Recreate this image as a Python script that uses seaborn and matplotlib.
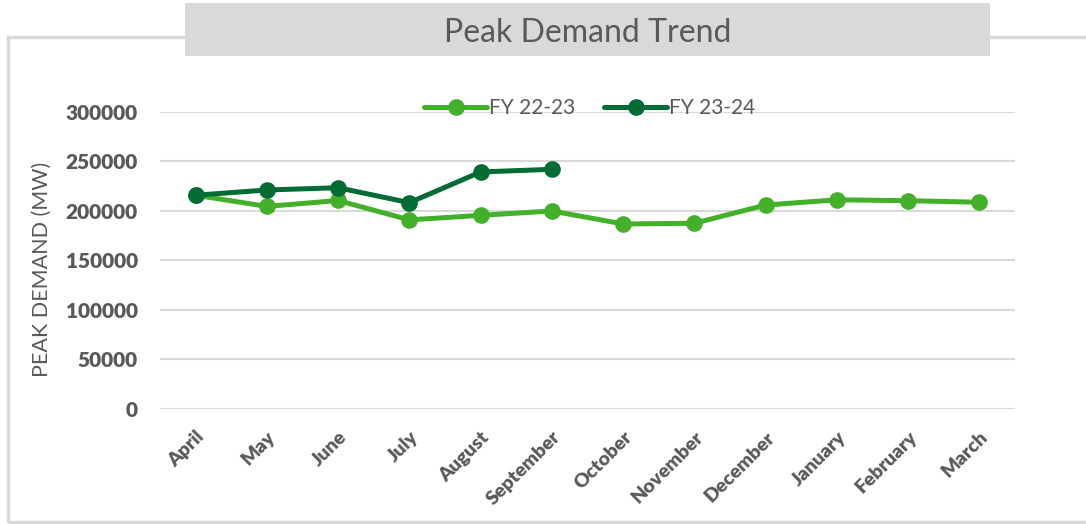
import pandas as pd
import matplotlib.pyplot as plt
import matplotlib.patches as patches
import seaborn as sns

# data
months = ['April', 'May', 'June', 'July', 'August', 'September',
          'October', 'November', 'December', 'January', 'February', 'March']
fy_2223 = [215900, 204600, 210600, 191000, 195600, 200000,
           186900, 187600, 206000, 211300, 210400, 208800]
fy_2324 = [215900, 221200, 223500, 208400, 239400, 242100]
series_names = ['FY 22-23', 'FY 23-24']
yticks = [0, 50000, 100000, 150000, 200000, 250000, 300000]

light_green = '#43B02A'
dark_green = '#036B34'
grey_text = '#595959'
grid_grey = '#D9D9D9'

df = pd.concat([
    pd.DataFrame({'Month': months, 'Demand': fy_2223, 'FY': series_names[0]}),
    pd.DataFrame({'Month': months[:len(fy_2324)], 'Demand': fy_2324, 'FY': series_names[1]}),
])

sns.set_style('white')
plt.rcParams['font.family'] = ['Lato', 'DejaVu Sans']

fig = plt.figure(figsize=(10.86, 5.24), dpi=100)
ax = fig.add_axes([0.1473, 0.2195, 0.7873, 0.5668])

sns.lineplot(data=df, x='Month', y='Demand', hue='FY', sort=False,
             palette={series_names[0]: light_green, series_names[1]: dark_green},
             marker='o', markersize=12, markeredgewidth=0, linewidth=3.6,
             ax=ax, clip_on=False)

ax.set_xlim(-0.5, len(months) - 0.5)
ax.set_ylim(0, 300000)
ax.set_yticks(yticks)
ax.set_yticklabels([str(v) for v in yticks], fontsize=15, fontweight='heavy', color=grey_text)
ax.set_xticks(range(len(months)))
ax.set_xticklabels(months, rotation=45, ha='right', rotation_mode='anchor',
                   fontsize=14, fontweight='heavy', color=grey_text)
ax.tick_params(axis='y', length=0, pad=16)
ax.tick_params(axis='x', length=0, pad=14)
ax.grid(axis='y', color=grid_grey, linewidth=1.5)
ax.set_axisbelow(True)
for s in ax.spines.values():
    s.set_visible(False)
ax.set_xlabel('')
ax.set_ylabel('PEAK DEMAND (MW)', fontsize=15.5, color=grey_text)
ax.yaxis.set_label_coords(-0.127, 0.47)

handles, labels = ax.get_legend_handles_labels()
ax.legend(handles, labels, loc='center', bbox_to_anchor=(0.543, 0.793),
          bbox_transform=fig.transFigure, ncol=2, frameon=False,
          fontsize=15, labelcolor=grey_text, handlelength=3.0,
          handletextpad=0.1, columnspacing=1.4)

# outer chart frame and title box
frame = patches.Rectangle((8 / 1086, 2 / 524), 1.1, (524 - 37 - 2) / 524,
                          transform=fig.transFigure, fill=False,
                          edgecolor=grid_grey, linewidth=2.5, clip_on=False)
fig.add_artist(frame)
title_box = patches.Rectangle((185 / 1086, (524 - 56) / 524), 805 / 1086, 53 / 524,
                              transform=fig.transFigure, facecolor=grid_grey,
                              edgecolor='none', zorder=3)
fig.add_artist(title_box)
fig.text(588 / 1086, (524 - 33) / 524, 'Peak Demand Trend', ha='center', va='center',
         fontsize=23, color=grey_text, zorder=4)

fig.savefig('out.png', dpi=100)
